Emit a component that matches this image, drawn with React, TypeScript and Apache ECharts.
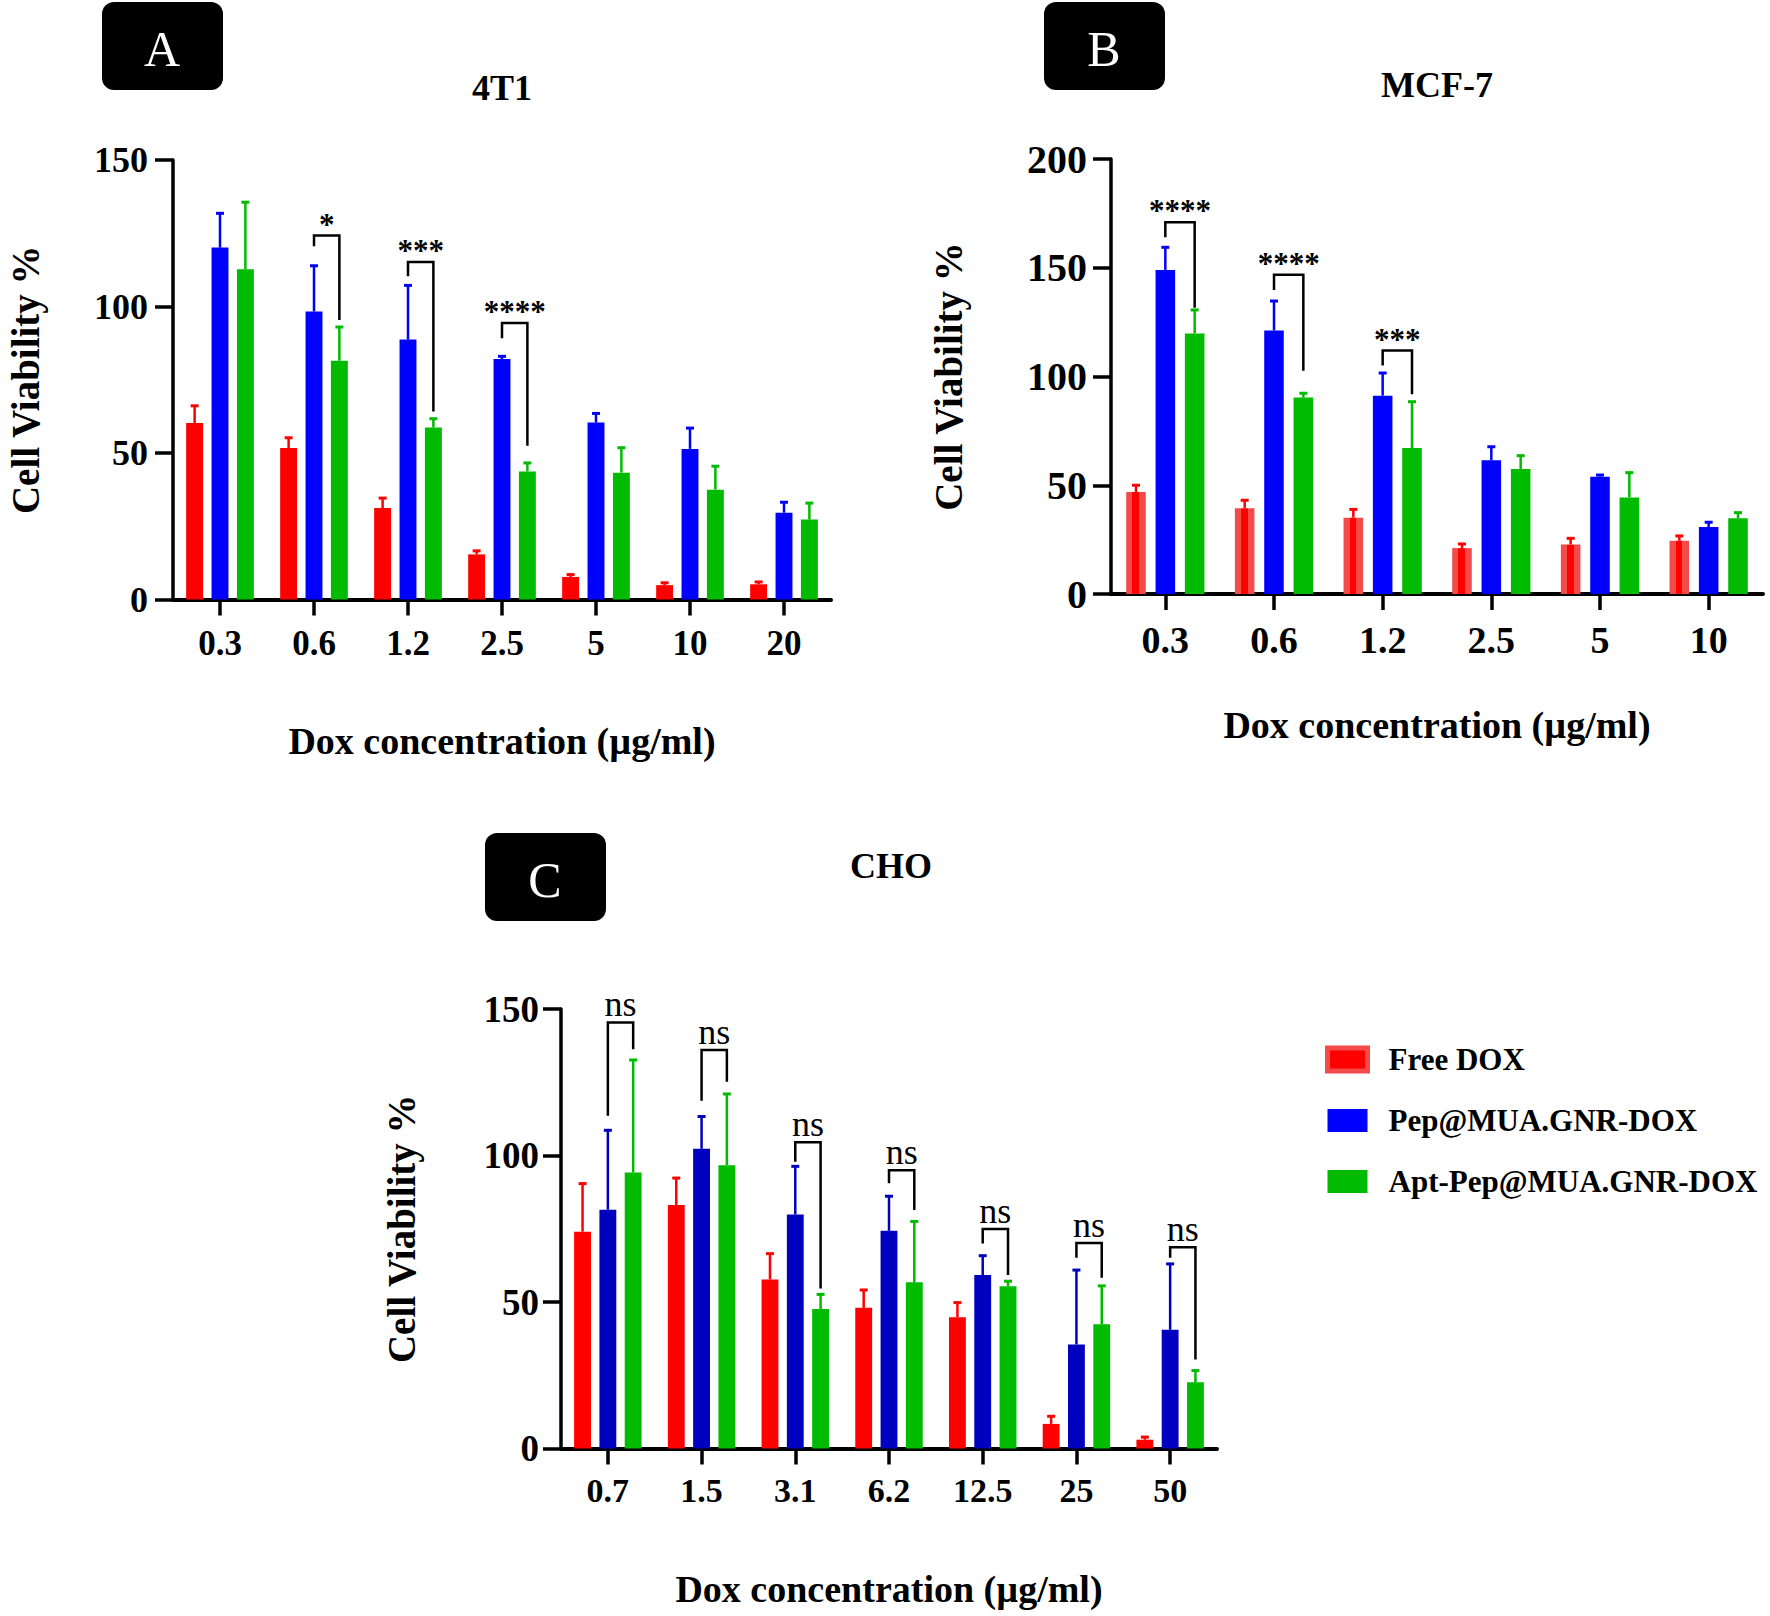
import React, { useEffect, useRef } from 'react';
import * as echarts from 'echarts';

const FONT = "'Liberation Serif', 'Times New Roman', serif";
const SERIES_NAMES = ['Free DOX', 'Pep@MUA.GNR-DOX', 'Apt-Pep@MUA.GNR-DOX'];
const Y_TITLE = 'Cell Viability %';
const X_TITLE = 'Dox concentration (µg/ml)';

// ---------- Panel A : 4T1 ----------
const catsA = ['0.3', '0.6', '1.2', '2.5', '5', '10', '20'];
const freeA = [60.2, 51.7, 31.2, 15.4, 7.7, 4.9, 5.2];
const freeSdA = [5.9, 3.5, 3.4, 1.2, 0.8, 0.8, 0.8];
const pepA = [120.1, 98.3, 88.7, 82.1, 60.4, 51.4, 29.6];
const pepSdA = [11.7, 15.6, 18.5, 0.9, 3.1, 7.1, 3.6];
const aptA = [112.7, 81.5, 58.7, 43.7, 43.3, 37.5, 27.3];
const aptSdA = [22.9, 11.5, 3.0, 2.9, 8.5, 8.0, 5.6];
const sigIdxA = [1, 2, 3];
const sigLabelA = ['*', '***', '****'];
const sigTopA = [124.2, 115.2, 94.4];
const sigLeftA = [120.6, 110.3, 89.2];
const sigRightA = [95.4, 64.2, 52.5];

// ---------- Panel B : MCF-7 ----------
const catsB = ['0.3', '0.6', '1.2', '2.5', '5', '10'];
const freeB = [46.9, 39.4, 35.1, 21.1, 22.8, 24.5];
const freeSdB = [3.1, 3.7, 3.8, 1.9, 2.8, 2.2];
const pepB = [149.0, 121.2, 91.2, 61.5, 53.9, 30.8];
const pepSdB = [10.4, 13.5, 10.4, 6.2, 0.8, 2.2];
const aptB = [119.8, 90.3, 67.1, 57.5, 44.4, 34.8];
const aptSdB = [10.8, 2.0, 21.3, 6.1, 11.4, 2.6];
const sigIdxB = [0, 1, 2];
const sigLabelB = ['****', '****', '***'];
const sigTopB = [170.9, 146.8, 111.9];
const sigLeftB = [164.0, 139.8, 105.1];
const sigRightB = [131.6, 102.7, 91.8];

// ---------- Panel C : CHO ----------
const catsC = ['0.7', '1.5', '3.1', '6.2', '12.5', '25', '50'];
const freeC = [74.0, 83.1, 57.7, 48.0, 44.8, 8.4, 3.0];
const freeSdC = [16.4, 9.2, 8.8, 6.1, 5.0, 2.6, 0.9];
const pepC = [81.5, 102.3, 79.9, 74.3, 59.2, 35.5, 40.5];
const pepSdC = [27.1, 11.0, 16.4, 11.8, 6.6, 25.4, 22.5];
const aptC = [94.2, 96.7, 47.6, 56.7, 55.4, 42.4, 22.6];
const aptSdC = [38.4, 24.3, 5.0, 20.8, 1.7, 13.1, 4.0];
const sigIdxC = [0, 1, 2, 3, 4, 5, 6];
const sigLabelC = ['ns', 'ns', 'ns', 'ns', 'ns', 'ns', 'ns'];
const sigTopC = [145.4, 136.0, 104.5, 95.0, 74.9, 70.1, 68.7];
const sigLeftC = [113.6, 118.7, 97.9, 90.5, 70.0, 65.1, 65.1];
const sigRightC = [136.3, 125.2, 54.6, 81.4, 59.2, 58.3, 30.4];

const RED = '#ff0000';
const RED_LIGHT = '#f34a4a';
const BLUE = '#0000ff';
const BLUE_DARK = '#0000bf';
const GREEN = '#00bb00';

const BAR_OFFSET = 0.27; // centre offset of side bars as a share of the band

const redStriped = {
  type: 'linear', x: 0, y: 0, x2: 1, y2: 0,
  colorStops: [
    { offset: 0, color: RED_LIGHT }, { offset: 0.32, color: RED_LIGHT },
    { offset: 0.32, color: RED }, { offset: 0.66, color: RED },
    { offset: 0.66, color: RED_LIGHT }, { offset: 1, color: RED_LIGHT },
  ],
};

function barSeries(name: string, data: number[], axis: number, color: any) {
  return {
    type: 'bar', name, data, xAxisIndex: axis, yAxisIndex: axis,
    barWidth: '18%', barGap: '50%',
    itemStyle: { color },
    z: 2,
  };
}

function errSeries(data: number[], sd: number[], axis: number, pos: number, color: string) {
  return {
    type: 'custom', xAxisIndex: axis, yAxisIndex: axis, z: 3, silent: true,
    data: data.map((v, i) => [i, v, v + sd[i]]),
    renderItem: (params: any, api: any) => {
      const p0 = api.coord([api.value(0), api.value(1)]);
      const p1 = api.coord([api.value(0), api.value(2)]);
      const band = api.size([1, 0])[0];
      const x = p0[0] + pos * BAR_OFFSET * band;
      return {
        type: 'group',
        children: [
          { type: 'line', shape: { x1: x, y1: p0[1], x2: x, y2: p1[1] }, style: { stroke: color, lineWidth: 2.5 } },
          { type: 'line', shape: { x1: x - 4, y1: p1[1], x2: x + 4, y2: p1[1] }, style: { stroke: color, lineWidth: 3 } },
        ],
      };
    },
  };
}

function sigSeries(idx: number[], top: number[], left: number[], right: number[], labels: string[], axis: number, isNs: boolean) {
  return {
    type: 'custom', xAxisIndex: axis, yAxisIndex: axis, z: 4, silent: true,
    data: idx.map((c, i) => [c, top[i], left[i], right[i]]),
    renderItem: (params: any, api: any) => {
      const c = api.value(0);
      const pt = api.coord([c, api.value(1)]);
      const pl = api.coord([c, api.value(2)]);
      const pr = api.coord([c, api.value(3)]);
      const band = api.size([1, 0])[0];
      const xl = pt[0];
      const xr = pt[0] + BAR_OFFSET * band;
      const label = labels[params.dataIndex];
      return {
        type: 'group',
        children: [
          {
            type: 'polyline',
            shape: { points: [[xl, pl[1]], [xl, pt[1]], [xr, pt[1]], [xr, pr[1]]] },
            style: { stroke: '#000', lineWidth: 2.5, fill: null },
          },
          {
            type: 'text',
            style: {
              text: label, x: (xl + xr) / 2, y: pt[1] + (isNs ? 0 : 4),
              align: 'center', verticalAlign: 'bottom',
              textAlign: 'center', textVerticalAlign: 'bottom',
              fontFamily: FONT, fontSize: isNs ? 36 : 31, fontWeight: isNs ? 'normal' : 'bold',
              fill: '#000',
            },
          },
        ],
      };
    },
  };
}

function xAxisCfg(axis: number, cats: string[], fontSize: number, margin: number, nameGap: number) {
  return {
    type: 'category', gridIndex: axis, data: cats, boundaryGap: true,
    axisLine: { show: true, lineStyle: { color: '#000', width: 4 } },
    axisTick: { show: true, alignWithLabel: true, interval: 0, length: 16, lineStyle: { color: '#000', width: 3.5 } },
    axisLabel: { interval: 0, color: '#000', fontFamily: FONT, fontWeight: 'bold', fontSize, margin },
    splitLine: { show: false },
    name: X_TITLE, nameLocation: 'middle', nameGap,
    nameTextStyle: { color: '#000', fontFamily: FONT, fontWeight: 'bold', fontSize: 38 },
  };
}

function yAxisCfg(axis: number, max: number, fontSize: number, margin: number, nameGap: number) {
  return {
    type: 'value', gridIndex: axis, min: 0, max, interval: 50,
    axisLine: { show: true, lineStyle: { color: '#000', width: 3.5 } },
    axisTick: { show: true, length: 18, lineStyle: { color: '#000', width: 3.5 } },
    axisLabel: { color: '#000', fontFamily: FONT, fontWeight: 'bold', fontSize, margin },
    splitLine: { show: false },
    name: Y_TITLE, nameLocation: 'middle', nameGap,
    nameTextStyle: { color: '#000', fontFamily: FONT, fontWeight: 'bold', fontSize: 39 },
  };
}

function panelBox(x: number, y: number, letter: string) {
  return [
    { type: 'rect', shape: { x, y, width: 121, height: 88, r: 12 }, style: { fill: '#000' } },
    {
      type: 'text', x: x + 60, y: y + 47,
      style: {
        text: letter, fill: '#fff', fontFamily: FONT, fontSize: 50,
        align: 'center', verticalAlign: 'middle', textAlign: 'center', textVerticalAlign: 'middle',
      },
    },
  ];
}

function titleText(x: number, y: number, text: string) {
  return {
    type: 'text', x, y,
    style: {
      text, fill: '#000', fontFamily: FONT, fontSize: 36, fontWeight: 'bold',
      align: 'center', verticalAlign: 'middle', textAlign: 'center', textVerticalAlign: 'middle',
    },
  };
}

export default function App() {
  const ref = useRef<HTMLDivElement>(null);
  useEffect(() => {
    if (!ref.current) return;
    const chart = echarts.init(ref.current, null, { renderer: 'svg' });
    const option: any = {
      animation: false,
      backgroundColor: '#fff',
      grid: [
        { left: 173, top: 160, width: 658, height: 439.5, outerBoundsMode: 'none' },
        { left: 1111, top: 159, width: 652, height: 435, outerBoundsMode: 'none' },
        { left: 561, top: 1009, width: 656, height: 439.5, outerBoundsMode: 'none' },
      ],
      xAxis: [
        xAxisCfg(0, catsA, 35, 26, 122),
        xAxisCfg(1, catsB, 38, 27, 112),
        xAxisCfg(2, catsC, 34, 25, 121),
      ],
      yAxis: [
        yAxisCfg(0, 150, 36, 25, 128),
        yAxisCfg(1, 200, 40, 24, 143),
        yAxisCfg(2, 150, 37, 22, 140),
      ],
      legend: {
        orient: 'vertical', left: 1325, top: 1044, padding: 0,
        itemWidth: 40, itemHeight: 23, itemGap: 30, icon: 'rect', selectedMode: false,
        data: [
          { name: SERIES_NAMES[0], itemStyle: { color: RED, borderColor: RED_LIGHT, borderWidth: 5 } },
          { name: SERIES_NAMES[1] },
          { name: SERIES_NAMES[2] },
        ],
        textStyle: { color: '#000', fontFamily: FONT, fontWeight: 'bold', fontSize: 31, padding: [0, 0, 0, 16] },
      },
      graphic: [
        ...panelBox(102, 2, 'A'),
        ...panelBox(1044, 2, 'B'),
        ...panelBox(485, 833, 'C'),
        titleText(502, 88, '4T1'),
        titleText(1437, 85, 'MCF-7'),
        titleText(891, 866, 'CHO'),
      ],
      series: [
        barSeries(SERIES_NAMES[0], freeA, 0, RED),
        barSeries(SERIES_NAMES[1], pepA, 0, BLUE),
        barSeries(SERIES_NAMES[2], aptA, 0, GREEN),
        barSeries(SERIES_NAMES[0], freeB, 1, redStriped),
        barSeries(SERIES_NAMES[1], pepB, 1, BLUE),
        barSeries(SERIES_NAMES[2], aptB, 1, GREEN),
        barSeries(SERIES_NAMES[0], freeC, 2, RED),
        barSeries(SERIES_NAMES[1], pepC, 2, BLUE_DARK),
        barSeries(SERIES_NAMES[2], aptC, 2, GREEN),
        errSeries(freeA, freeSdA, 0, -1, RED),
        errSeries(pepA, pepSdA, 0, 0, BLUE),
        errSeries(aptA, aptSdA, 0, 1, GREEN),
        errSeries(freeB, freeSdB, 1, -1, RED),
        errSeries(pepB, pepSdB, 1, 0, BLUE),
        errSeries(aptB, aptSdB, 1, 1, GREEN),
        errSeries(freeC, freeSdC, 2, -1, RED),
        errSeries(pepC, pepSdC, 2, 0, BLUE_DARK),
        errSeries(aptC, aptSdC, 2, 1, GREEN),
        sigSeries(sigIdxA, sigTopA, sigLeftA, sigRightA, sigLabelA, 0, false),
        sigSeries(sigIdxB, sigTopB, sigLeftB, sigRightB, sigLabelB, 1, false),
        sigSeries(sigIdxC, sigTopC, sigLeftC, sigRightC, sigLabelC, 2, true),
      ],
    };
    chart.setOption(option);
    return () => chart.dispose();
  }, []);
  return <div ref={ref} style={{ position: 'absolute', left: 0, top: 0, width: 1770, height: 1616 }} />;
}
